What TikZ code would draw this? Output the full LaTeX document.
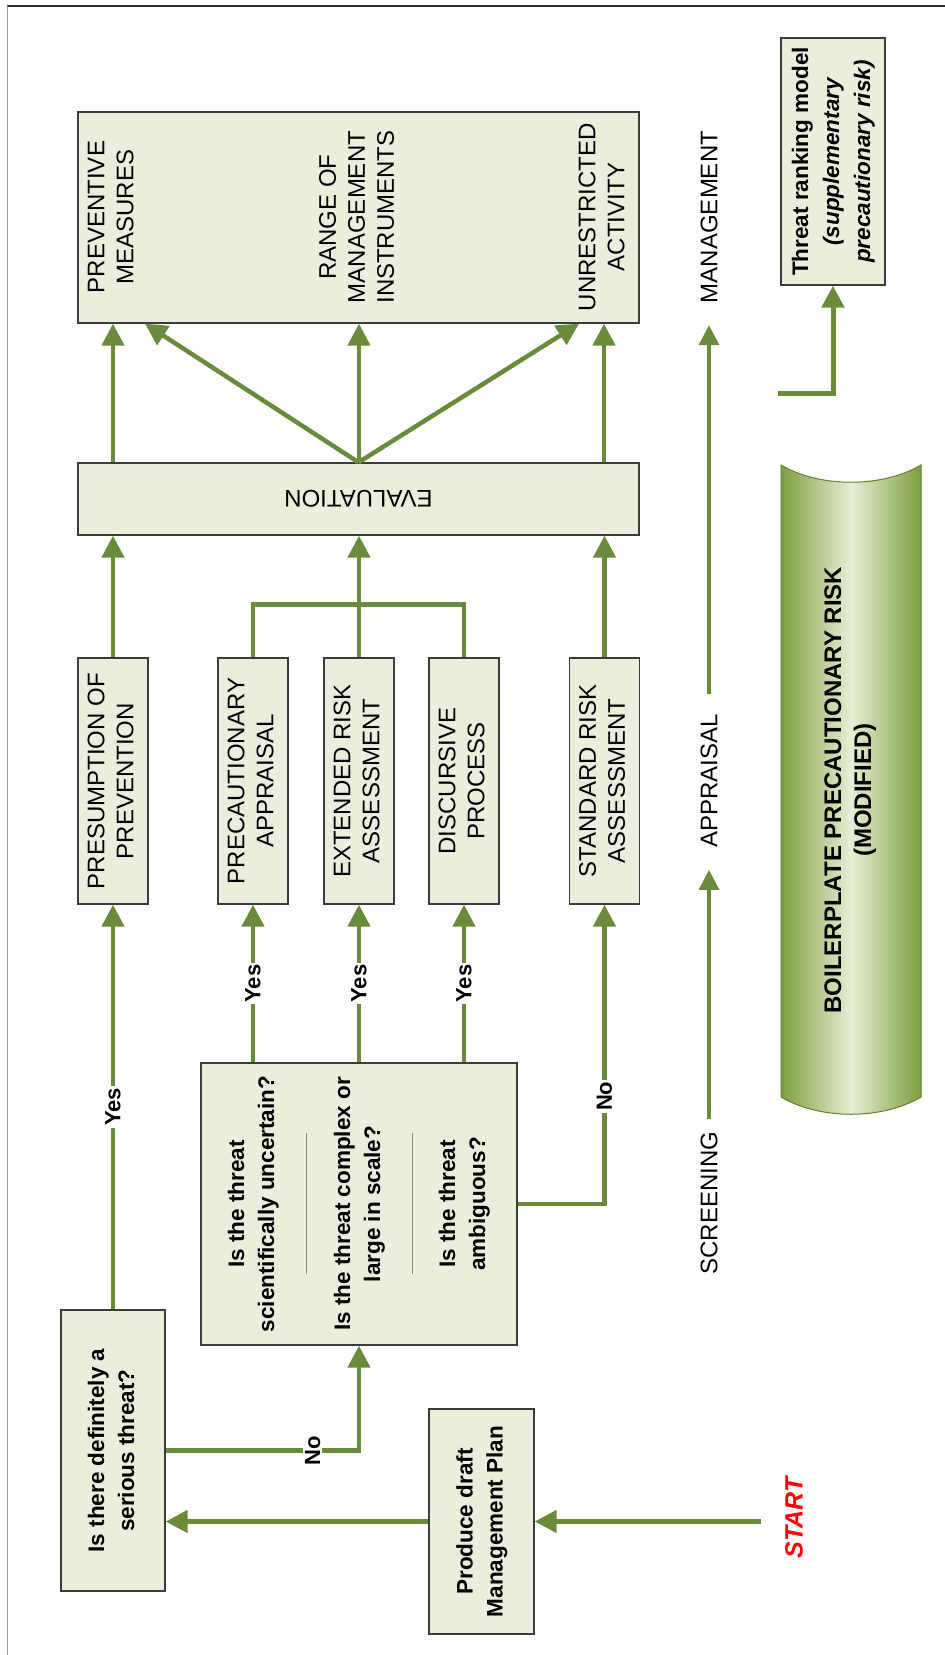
\documentclass[tikz,border=0pt]{standalone}
\usepackage{fontspec}
\setmainfont{Liberation Sans}
\usepackage{graphicx}
\usetikzlibrary{arrows.meta,positioning}
\definecolor{PRBoxFill}{HTML}{EAEEDD}
\definecolor{PRBoxStroke}{HTML}{3C3C3C}
\definecolor{PRArrow}{HTML}{6B8B3C}
\definecolor{PRStart}{HTML}{FF0000}
\definecolor{PRBannerEdge}{HTML}{7E9F3E}
\definecolor{PRBannerMid}{HTML}{E6EED4}
\definecolor{PRFrame}{HTML}{9A9A9A}
\definecolor{PRFrameDark}{HTML}{333333}
\definecolor{PRSep}{HTML}{8A8A8A}
\newcommand{\vtext}[1]{\rotatebox{90}{\begin{tabular}{@{}c@{}}#1\end{tabular}}}

\begin{document}
\begin{tikzpicture}[x=1pt,y=-1pt,
  box/.style={draw=PRBoxStroke,fill=PRBoxFill,line width=1.3pt,inner sep=0pt},
  capfont/.style={font=\fontsize{24}{29}\selectfont},
  qfont/.style={font=\fontsize{22.5}{30}\selectfont\bfseries},
  flow/.style={draw=PRArrow,line width=4.5pt,-{Triangle[length=22pt,width=22pt]}},
  link/.style={draw=PRArrow,line width=4.5pt},
  answer/.style={fill=white,inner sep=2pt,rotate=90,font=\fontsize{22}{26}\selectfont\bfseries},
  stagelabel/.style={inner sep=0pt,font=\fontsize{24}{29}\selectfont},
  stage/.style={draw=PRArrow,line width=3.5pt,-{Triangle[length=20pt,width=20pt]}}]
  \useasboundingbox (0,0) rectangle (945,1655);
  \draw[PRFrameDark,line width=1.2pt] (7,6) -- (945,6);
  \draw[PRFrame,line width=1pt] (7,6) -- (7,1655);

  % outcomes and evaluation
  \node[box,minimum width=561pt,minimum height=211pt] (outcome) at (358.5,217.5) {};
  \node[capfont] (prev) at (113,217) {\vtext{PREVENTIVE\\MEASURES}};
  \node[capfont] (range) at (359,217) {\vtext{RANGE OF\\MANAGEMENT\\INSTRUMENTS}};
  \node[capfont] (unres) at (604,217) {\vtext{UNRESTRICTED\\ACTIVITY}};
  \node[box,capfont,minimum width=561pt,minimum height=72pt] (eval) at (358.5,499) {\rotatebox{180}{EVALUATION}};

  % appraisal boxes
  \node[box,capfont,minimum width=70pt,minimum height=246pt] (presum) at (113,781) {\vtext{PRESUMPTION OF\\PREVENTION}};
  \node[box,capfont,minimum width=70pt,minimum height=246pt] (precaut) at (253,781) {\vtext{PRECAUTIONARY\\APPRAISAL}};
  \node[box,capfont,minimum width=70pt,minimum height=246pt] (extend) at (359,781) {\vtext{EXTENDED RISK\\ASSESSMENT}};
  \node[box,capfont,minimum width=70pt,minimum height=246pt] (discurs) at (464,781) {\vtext{DISCURSIVE\\PROCESS}};
  \node[box,capfont,minimum width=70pt,minimum height=246pt] (standard) at (604.5,781) {\vtext{STANDARD RISK\\ASSESSMENT}};

  % screening
  \node[box,minimum width=316pt,minimum height=282pt] (quest) at (359,1204) {};
  \node[qfont] (qone) at (253,1204) {\vtext{Is the threat\\scientifically uncertain?}};
  \node[qfont] (qtwo) at (359,1204) {\vtext{Is the threat complex or\\large in scale?}};
  \node[qfont] (qthree) at (464,1204) {\vtext{Is the threat\\ambiguous?}};
  \draw[PRSep,line width=1pt] (306,1133) -- (306,1274);
  \draw[PRSep,line width=1pt] (412,1133) -- (412,1274);
  \node[box,qfont,minimum width=104pt,minimum height=281pt] (serious) at (113,1450.5) {\vtext{Is there definitely a\\serious threat?}};
  \node[box,qfont,minimum width=105pt,minimum height=225pt] (draft) at (481.5,1521.5) {\vtext{Produce draft\\Management Plan}};
  \node[font=\fontsize{25}{30}\selectfont\bfseries\itshape,text=PRStart] (start) at (794,1518) {\rotatebox{90}{START}};

  % threat ranking
  \node[box,font=\fontsize{22.5}{31}\selectfont\bfseries,minimum width=104pt,minimum height=247pt] (threat) at (833,161.5) {\vtext{Threat ranking model\\\textit{(supplementary}\\\textit{precautionary risk)}}};
  \coordinate (rankfoot) at (778,393);

  % stages
  \node[stagelabel] (screen) at (709,1203) {\rotatebox{90}{SCREENING}};
  \node[stagelabel] (apprais) at (709,781) {\rotatebox{90}{APPRAISAL}};
  \node[stagelabel] (manage) at (709,217) {\rotatebox{90}{MANAGEMENT}};

  % banner
  \shadedraw[left color=PRBannerEdge,right color=PRBannerEdge,middle color=PRBannerMid,draw=PRBannerEdge!80!black,line width=1pt]
    (781,465) .. controls (820,488) and (882,488) .. (921,465) -- (921,1097)
    .. controls (882,1120) and (820,1120) .. (781,1097) -- cycle;
  \node[font=\fontsize{24}{30}\selectfont\bfseries] (banner) at (850,790) {\vtext{BOILERPLATE PRECAUTIONARY RISK\\(MODIFIED)}};

  % connectors
  \draw[flow] ([xshift=-21pt]start.west |- draft.east) -- (draft.east);
  \draw[flow] (draft.west) -- (draft.west -| serious.east);
  \draw[flow] (serious.north) -- node[answer]{Yes} (presum.south);
  \draw[flow] (serious.east) -| node[answer,pos=0.38]{No} (quest.south);
  \draw[flow] (quest.north -| precaut) -- node[answer]{Yes} (precaut.south);
  \draw[flow] (quest.north -| extend) -- node[answer]{Yes} (extend.south);
  \draw[flow] (quest.north -| discurs) -- node[answer]{Yes} (discurs.south);
  \draw[flow] (quest.east) -| node[answer,pos=0.68]{No} (standard.south);
  \draw[link] (precaut.north) -- ++(0,-53) -| (discurs.north);
  \draw[flow] (presum.north) -- (eval.south -| presum);
  \draw[flow] (extend.north) -- (eval.south -| extend);
  \draw[flow] (standard.north) -- (eval.south -| standard);
  \draw[flow] (eval.north -| prev) -- (outcome.south -| prev);
  \draw[flow] (eval.north) -- ([xshift=32pt]outcome.south -| prev);
  \draw[flow] (eval.north -| range) -- (outcome.south -| range);
  \draw[flow] (eval.north) -- ([xshift=-25pt]outcome.south -| unres);
  \draw[flow] (eval.north -| unres) -- (outcome.south -| unres);
  \draw[flow,line width=5pt] (rankfoot) -| (threat.south);
  \draw[stage,shorten <=12pt,shorten >=22pt] (screen) -- (apprais);
  \draw[stage,shorten <=20pt,shorten >=22pt] (apprais) -- (manage);
\end{tikzpicture}
\end{document}
